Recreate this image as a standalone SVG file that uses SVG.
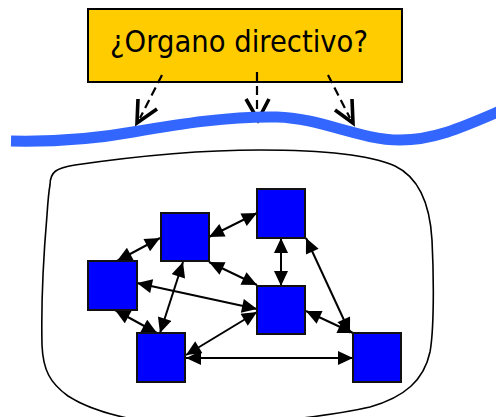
<svg xmlns="http://www.w3.org/2000/svg" width="496" height="417" viewBox="0 0 496 417">
  <defs>
    <style>
      .node { fill: #0000ff; stroke: #111; stroke-width: 2; }
      .link { stroke: #000; stroke-width: 2; fill: none; marker-start: url(#tri); marker-end: url(#tri); }
      .dash { stroke: #000; stroke-width: 2.2; fill: none; stroke-dasharray: 9 5; }
      .head { stroke: #000; stroke-width: 3.6; fill: none; stroke-linejoin: miter; }
      .label { font-family: "DejaVu Sans", Verdana, sans-serif; font-size: 30px; fill: #000; }
    </style>
    <marker id="tri" markerUnits="userSpaceOnUse" markerWidth="16" markerHeight="14" refX="15" refY="7" orient="auto-start-reverse" viewBox="0 0 15 14">
      <path d="M0,0 L15,7 L0,14 Z" fill="#000"/>
    </marker>
  </defs>

  <!-- title box -->
  <g id="title">
    <rect x="88" y="9" width="314" height="73" fill="#ffcc00" stroke="#000" stroke-width="2"/>
    <text class="label" x="110" y="52" textLength="258" lengthAdjust="spacingAndGlyphs">¿Organo directivo?</text>
  </g>

  <!-- dashed directives pointing down to the boundary -->
  <g id="directives">
    <path class="dash" d="M162,75 L140,118"/>
    <path class="head" d="M138,99 L137,123 L157,109"/>
    <path class="dash" d="M257,72 L257,114"/>
    <path class="head" d="M246,99 L258,120 L269,99"/>
    <path class="dash" d="M328,75 L350,118"/>
    <path class="head" d="M335,110 L353,123 L352,99"/>
  </g>

  <!-- boundary wave -->
  <path id="boundary" d="M11,141 C60,142 100,138 133,132 C180,124 230,116 277,117 C320,118 360,140 400,140 C435,140 465,126 500,111" fill="none" stroke="#3366ff" stroke-width="11"/>

  <!-- system enclosure -->
  <path id="enclosure" d="M50,185 C50,172 56,168 75,165 C130,157 200,150 260,150 C320,150 370,155 395,166 C420,178 430,205 432,240 C434,280 434,330 430,352 C424,380 405,397 370,407 C340,414 310,417 287,420 L137,420 C110,415 85,407 68,396 C50,383 43,370 42,345 C41,300 44,250 47,215 C48,200 49,190 50,185 Z" fill="none" stroke="#000" stroke-width="1.6"/>

  <!-- connectors -->
  <g id="connectors">
    <line class="link" x1="160" y1="238" x2="117" y2="261"/>
    <line class="link" x1="209" y1="237" x2="257" y2="213"/>
    <line class="link" x1="183" y1="262" x2="160" y2="333"/>
    <line class="link" x1="209" y1="262" x2="257" y2="285"/>
    <line class="link" x1="137" y1="283" x2="257" y2="309"/>
    <line class="link" x1="115" y1="310" x2="157" y2="333"/>
    <line class="link" x1="186" y1="355" x2="257" y2="312"/>
    <line class="link" x1="186" y1="358" x2="353" y2="358"/>
    <line class="link" x1="281" y1="238" x2="281" y2="286"/>
    <line class="link" x1="306" y1="238" x2="350" y2="333"/>
    <line class="link" x1="306" y1="311" x2="353" y2="333"/>
  </g>

  <!-- nodes -->
  <g id="node-a"><rect class="node" x="161" y="213" width="48" height="48"/></g>
  <g id="node-b"><rect class="node" x="88" y="261" width="49" height="49"/></g>
  <g id="node-c"><rect class="node" x="137" y="333" width="48" height="49"/></g>
  <g id="node-d"><rect class="node" x="257" y="189" width="48" height="49"/></g>
  <g id="node-e"><rect class="node" x="257" y="286" width="48" height="48"/></g>
  <g id="node-f"><rect class="node" x="353" y="333" width="48" height="49"/></g>
</svg>
